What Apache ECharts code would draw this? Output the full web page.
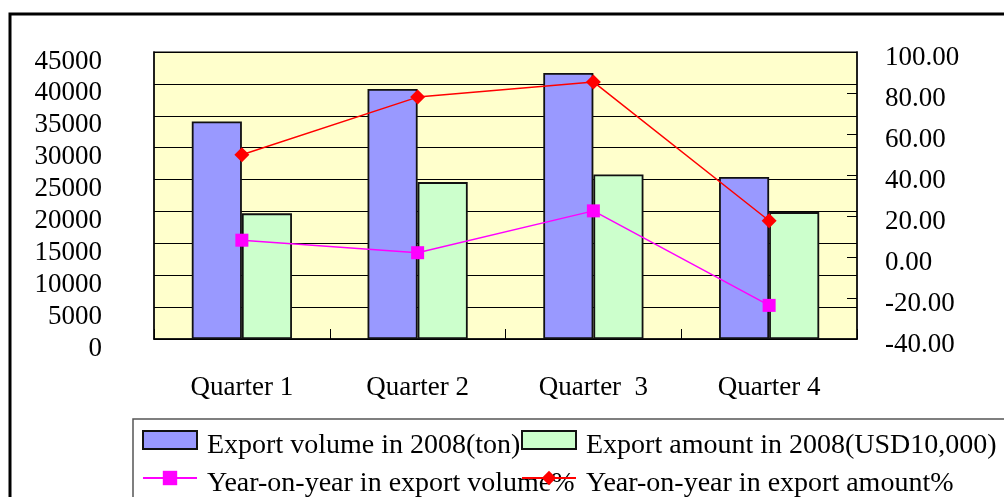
<!DOCTYPE html>
<html>
<head>
<meta charset="utf-8">
<script src="https://cdn.jsdelivr.net/npm/echarts@6/dist/echarts.min.js"></script>
<style>
  html, body { margin: 0; padding: 0; background: #fff; }
  #chart { width: 1004px; height: 497px; }
</style>
</head>
<body>
<div id="chart"></div>
<script>
// data
const quarters = ['Quarter 1', 'Quarter 2', 'Quarter  3', 'Quarter 4']
const exportVolume = [34100, 39200, 41700, 25400]
const exportAmount = [19700, 24600, 25800, 19900]
const volumeYoY = [8.2, 2.1, 22.5, -23.6]
const amountYoY = [49.9, 78.0, 85.4, 17.7]
const seriesNames = [
  'Export volume in 2008(ton)',
  'Export amount in 2008(USD10,000)',
  'Year-on-year in export volume%',
  'Year-on-year in export amount%'
]

const serif = '"Liberation Serif", "Times New Roman", serif'
const chart = echarts.init(document.getElementById('chart'))

// one legend per entry so the columns line up like the original
const legendAt = (name, left, top, icon) => ({
  data: [{ name: name, icon: icon }],
  left: left,
  top: top,
  padding: 0,
  itemWidth: 54,
  itemHeight: 18,
  // empty first line pushes the text a bit below the icon, as in the original
  formatter: (n) => '\n' + n,
  textStyle: {
    fontFamily: serif,
    fontSize: 28,
    lineHeight: 12,
    color: '#000',
    padding: [0, 0, 0, 5]
  }
})

const option = {
  backgroundColor: '#fff',
  animation: false,
  grid: {
    left: 154,
    right: 147,
    top: 52,
    bottom: 158,
    show: true,
    backgroundColor: '#FFFFCC',
    borderColor: '#555',
    borderWidth: 1.5
  },
  graphic: [
    {
      type: 'rect',
      shape: { x: 10, y: 14, width: 1200, height: 600 },
      style: { fill: 'none', stroke: '#000', lineWidth: 3 }
    },
    {
      type: 'rect',
      shape: { x: 133, y: 419, width: 1000, height: 200 },
      style: { fill: '#fff', stroke: '#555', lineWidth: 1.5 }
    }
  ],
  legend: [
    legendAt(seriesNames[0], 142, 420, 'rect'),
    legendAt(seriesNames[1], 521, 420, 'rect'),
    legendAt(seriesNames[2], 142, 458),
    legendAt(seriesNames[3], 521, 458)
  ],
  xAxis: {
    type: 'category',
    data: quarters,
    axisLine: { lineStyle: { color: '#000', width: 1.5 } },
    axisTick: { show: true, inside: true, length: 10, lineStyle: { color: '#000' } },
    axisLabel: { fontFamily: serif, fontSize: 27, color: '#000', margin: 35 }
  },
  yAxis: [
    {
      type: 'value',
      min: 0,
      max: 45000,
      interval: 5000,
      axisLine: { show: true, lineStyle: { color: '#000', width: 1.5 } },
      axisTick: { show: false },
      splitLine: { lineStyle: { color: '#000', width: 1.2 } },
      axisLabel: {
        fontFamily: serif, fontSize: 27, color: '#000',
        margin: 52, verticalAlign: 'top', lineHeight: 19,
        formatter: (v) => String(v)
      }
    },
    {
      type: 'value',
      min: -40,
      max: 100,
      interval: 20,
      position: 'right',
      axisLine: { show: true, lineStyle: { color: '#000', width: 1.5 } },
      axisTick: { show: true, inside: true, length: 10, lineStyle: { color: '#000' } },
      splitLine: { show: false },
      axisLabel: {
        fontFamily: serif, fontSize: 27, color: '#000',
        margin: 28, verticalAlign: 'top', lineHeight: 12,
        formatter: (v) => v.toFixed(2)
      }
    }
  ],
  series: [
    {
      name: seriesNames[0],
      type: 'bar',
      data: exportVolume,
      barGap: '0%',
      barCategoryGap: '43%',
      itemStyle: { color: '#9999FF', borderColor: '#111', borderWidth: 1.8 }
    },
    {
      name: seriesNames[1],
      type: 'bar',
      data: exportAmount,
      itemStyle: { color: '#CCFFCC', borderColor: '#111', borderWidth: 1.8 }
    },
    {
      name: seriesNames[2],
      type: 'line',
      yAxisIndex: 1,
      data: volumeYoY,
      symbol: 'rect',
      symbolSize: 13,
      lineStyle: { color: '#FF00FF', width: 1.5 },
      itemStyle: { color: '#FF00FF' }
    },
    {
      name: seriesNames[3],
      type: 'line',
      yAxisIndex: 1,
      data: amountYoY,
      symbol: 'diamond',
      symbolSize: 15,
      lineStyle: { color: '#FF0000', width: 1.5 },
      itemStyle: { color: '#FF0000' }
    }
  ]
}

chart.setOption(option)
</script>
</body>
</html>
